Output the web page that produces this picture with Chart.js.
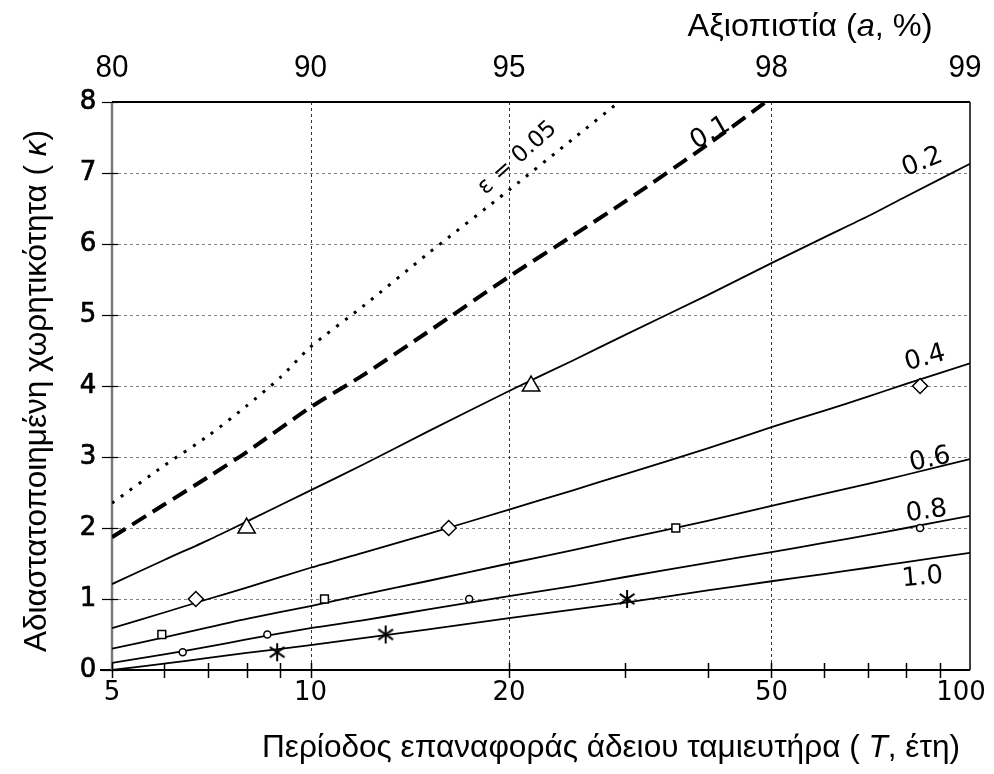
<!DOCTYPE html>
<html>
<head>
<meta charset="utf-8">
<script src="https://cdn.jsdelivr.net/npm/chart.js@4.4.1/dist/chart.umd.min.js"></script>
<style>
html,body{margin:0;padding:0;background:#fff;}
#wrap{width:994px;height:774px;position:relative;}
canvas{display:block;}
</style>
</head>
<body>
<div id="wrap"><canvas id="c" width="994" height="774"></canvas></div>
<script>
// ---------- DATA ----------
// Return period T (years) grid for the solid curves
const tGrid = [5, 6, 7, 8, 10, 12, 15, 20, 25, 30, 40, 50, 60, 70, 80, 100];
const kEps02 = [1.21, 1.55, 1.83, 2.09, 2.53, 2.89, 3.35, 3.93, 4.36, 4.72, 5.28, 5.73, 6.09, 6.39, 6.67, 7.13];
const kEps04 = [0.59, 0.81, 1.00, 1.16, 1.44, 1.65, 1.91, 2.26, 2.53, 2.76, 3.12, 3.42, 3.65, 3.85, 4.03, 4.32];
const kEps06 = [0.30, 0.46, 0.60, 0.72, 0.90, 1.06, 1.25, 1.50, 1.69, 1.85, 2.10, 2.31, 2.48, 2.62, 2.75, 2.97];
const kEps08 = [0.10, 0.22, 0.33, 0.43, 0.59, 0.70, 0.85, 1.04, 1.18, 1.31, 1.51, 1.66, 1.79, 1.90, 2.00, 2.17];
const kEps10 = [0.00, 0.09, 0.17, 0.24, 0.35, 0.45, 0.57, 0.73, 0.85, 0.95, 1.12, 1.25, 1.35, 1.44, 1.52, 1.65];

// ε = 0.05 (dotted) and ε = 0.1 (dashed) run out of the top of the plot
const tEps005 = [5, 6, 7, 8, 9, 10, 12, 15, 20, 25, 30];
const kEps005 = [2.35, 2.88, 3.30, 3.72, 4.12, 4.55, 5.12, 5.85, 6.76, 7.48, 8.07];
const tEps01 = [5, 6, 7, 8, 10, 12, 15, 20, 25, 30, 40, 50];
const kEps01 = [1.87, 2.33, 2.72, 3.07, 3.70, 4.15, 4.75, 5.54, 6.12, 6.60, 7.40, 8.06];

// Marker points
const triT = [8.0, 21.6];            const triK = [2, 4];
const diaT = [6.7, 16.2, 84];        const diaK = [1, 2, 4];
const sqT  = [5.95, 10.5, 35.8];     const sqK  = [0.5, 1, 2];
const cirT = [6.4, 8.6, 17.4, 84];   const cirK = [0.25, 0.5, 1, 2];
const astT = [8.9, 13.0, 30.2];      const astK = [0.25, 0.5, 1];

// Curve labels (text, T, k, angle in degrees)
const curveLabelText  = ['ε = 0.05', '0.1', '0.2', '0.4', '0.6', '0.8', '1.0'];
const curveLabelT     = [20.6, 40.4, 84.7, 85.5, 87.0, 85.9, 84.7];
const curveLabelK     = [7.21, 7.56, 7.15, 4.39, 2.96, 2.23, 1.30];
const curveLabelAngle = [-42, -30, -22, -15, -12, -8, -5];

// Axes ticks / labels
const yTickValues = [0, 1, 2, 3, 4, 5, 6, 7, 8];
const yGridValues = [1, 2, 3, 4, 5, 6, 7];
const xGridValues = [10, 20, 50];
const xMinorTicks = [5, 6, 7, 8, 9, 10, 20, 30, 40, 50, 60, 70, 80, 90];
const xTickValues = [5, 10, 20, 50, 100];
const xTickLabels = ['5', '10', '20', '50', '100'];
const topTickValues = [5, 10, 20, 50, 100];
const topTickLabels = ['80', '90', '95', '98', '99'];

const yTitleParts = [{t:'Αδιαστατοποιημένη χωρητικότητα ( ', i:false}, {t:'κ', i:true}, {t:')', i:false}];
const xTitleParts = [{t:'Περίοδος επαναφοράς άδειου ταμιευτήρα ( ', i:false}, {t:'T', i:true}, {t:', έτη)', i:false}];
const topTitleParts = [{t:'Αξιοπιστία (', i:false}, {t:'a', i:true}, {t:', %)', i:false}];

// ---------- HELPERS ----------
const toXY = (ts, ks) => ts.map((t, i) => ({x: t, y: ks[i]}));

function makeAsterisk(size) {
  const c = document.createElement('canvas');
  c.width = size; c.height = size;
  const g = c.getContext('2d');
  g.strokeStyle = '#000'; g.lineWidth = 2;
  const r = size / 2 - 1, cx = size / 2, cy = size / 2;
  [90, 35, 145].forEach(a => {
    const rad = a * Math.PI / 180;
    g.beginPath();
    g.moveTo(cx - r * Math.cos(rad), cy - r * Math.sin(rad));
    g.lineTo(cx + r * Math.cos(rad), cy + r * Math.sin(rad));
    g.stroke();
  });
  return c;
}
const asteriskImg = makeAsterisk(20);

const NARROW = "'Liberation Sans Narrow','Liberation Sans',Arial,sans-serif";
const DEJAVU = "'DejaVu Sans',Verdana,sans-serif";

function drawRich(ctx, parts, cx, cy, targetW, size, family, rot) {
  ctx.save();
  ctx.translate(cx, cy);
  if (rot) ctx.rotate(rot);
  let w = 0;
  const ws = parts.map(p => {
    ctx.font = (p.i ? 'italic ' : '') + size + 'px ' + family;
    const m = ctx.measureText(p.t).width; w += m; return m;
  });
  const s = targetW ? targetW / w : 1;
  ctx.scale(s, 1);
  ctx.textBaseline = 'middle'; ctx.textAlign = 'left'; ctx.fillStyle = '#000';
  let x = -w / 2;
  parts.forEach((p, i) => {
    ctx.font = (p.i ? 'italic ' : '') + size + 'px ' + family;
    ctx.fillText(p.t, x, 0);
    x += ws[i];
  });
  ctx.restore();
}

function fitText(ctx, text, cx, cy, targetW, font) {
  ctx.save();
  ctx.font = font;
  const w = ctx.measureText(text).width;
  ctx.translate(cx, cy);
  ctx.scale(targetW / w, 1);
  ctx.textAlign = 'center'; ctx.textBaseline = 'middle';
  ctx.fillText(text, 0, 0);
  ctx.restore();
}

function seg(ctx, x1, y1, x2, y2) {
  ctx.beginPath(); ctx.moveTo(x1, y1); ctx.lineTo(x2, y2); ctx.stroke();
}

// ---------- DECORATION PLUGIN ----------
const decor = {
  id: 'decor',
  beforeDatasetsDraw(chart) {
    const {ctx, chartArea: a, scales: {x, y}} = chart;
    ctx.save();
    ctx.lineWidth = 1;
    // horizontal grid
    ctx.setLineDash([3, 3]);
    ctx.strokeStyle = '#808080';
    yGridValues.forEach(v => {
      const py = Math.round(y.getPixelForValue(v)) + 0.5;
      seg(ctx, a.left, py, a.right, py);
    });
    // vertical grid
    ctx.strokeStyle = '#333';
    ctx.setLineDash([3, 3]);
    xGridValues.forEach(v => {
      const px = Math.round(x.getPixelForValue(v)) + 0.5;
      seg(ctx, px, a.top, px, a.bottom);
    });
    ctx.setLineDash([]);
    // frame
    ctx.strokeStyle = '#000';
    ctx.lineWidth = 2;
    seg(ctx, a.left, a.top, a.right, a.top);
    seg(ctx, a.left - 12, a.bottom, a.right, a.bottom);
    ctx.lineWidth = 1.5;
    seg(ctx, a.right, a.top, a.right, a.bottom);
    ctx.strokeStyle = '#7a7a7a';
    ctx.lineWidth = 2.5;
    seg(ctx, a.left, a.top, a.left, a.bottom);
    // y ticks
    ctx.strokeStyle = '#000';
    ctx.lineWidth = 1.2;
    yTickValues.forEach(v => {
      const py = Math.round(y.getPixelForValue(v)) + 0.5;
      seg(ctx, a.left - 10, py, a.left + 6, py);
    });
    // x minor ticks (crossing the axis)
    ctx.lineWidth = 1.5;
    xMinorTicks.forEach(v => {
      const px = Math.round(x.getPixelForValue(v)) + 0.5;
      seg(ctx, px, a.bottom - 7, px, a.bottom + 8);
    });
    ctx.restore();
  },
  afterDatasetsDraw(chart) {
    const {ctx, chartArea: a, scales: {x, y}} = chart;
    ctx.save();
    ctx.fillStyle = '#000';
    ctx.strokeStyle = '#000';
    // y tick labels (slightly heavy)
    ctx.font = '26px ' + DEJAVU;
    ctx.textAlign = 'center'; ctx.textBaseline = 'middle';
    ctx.lineWidth = 0.7;
    yTickValues.forEach(v => {
      const py = y.getPixelForValue(v);
      ctx.fillText(String(v), a.left - 24, py);
      ctx.strokeText(String(v), a.left - 24, py);
    });
    // bottom tick labels
    ctx.font = '26px ' + DEJAVU;
    xTickValues.forEach((v, i) => {
      let px = x.getPixelForValue(v);
      if (i === xTickValues.length - 1) px -= 9;
      ctx.fillText(xTickLabels[i], px, a.bottom + 23);
    });
    // top tick labels (narrow, tall)
    topTickValues.forEach((v, i) => {
      let px = x.getPixelForValue(v);
      if (i === topTickValues.length - 1) px -= 5;
      fitText(ctx, topTickLabels[i], px, a.top - 34, 33, '31px ' + NARROW);
    });
    // curve labels
    curveLabelText.forEach((t, i) => {
      const px = x.getPixelForValue(curveLabelT[i]);
      const py = y.getPixelForValue(curveLabelK[i]);
      ctx.save();
      ctx.translate(px, py);
      ctx.rotate(curveLabelAngle[i] * Math.PI / 180);
      ctx.font = (i === 0 ? '23px ' : '26px ') + DEJAVU;
      ctx.textAlign = 'center'; ctx.textBaseline = 'middle';
      ctx.fillText(t, 0, 0);
      ctx.restore();
    });
    // axis titles
    drawRich(ctx, topTitleParts, 810, 27, 245, 32, NARROW, 0);
    drawRich(ctx, xTitleParts, 611, 748, 698, 32, NARROW, 0);
    drawRich(ctx, yTitleParts, 37, 391, 522, 32, NARROW, -Math.PI / 2);
    ctx.restore();
  }
};

// ---------- CHART ----------
const solid = (data) => ({
  data, showLine: true, borderColor: '#000', borderWidth: 1.8,
  pointRadius: 0, tension: 0.25, fill: false
});
const markers = (data, style, r) => ({
  data, showLine: false, pointStyle: style, pointRadius: r, pointHoverRadius: r,
  pointBorderColor: '#000', pointBackgroundColor: '#fff', pointBorderWidth: 1.5
});

new Chart(document.getElementById('c'), {
  type: 'scatter',
  data: {
    datasets: [
      markers(toXY(triT, triK), 'triangle', 10),
      markers(toXY(diaT, diaK), 'rectRot', 7.5),
      markers(toXY(sqT, sqK), 'rect', 5.5),
      markers(toXY(cirT, cirK), 'circle', 3.5),
      markers(toXY(astT, astK), asteriskImg, 10),
      Object.assign(solid(toXY(tEps005, kEps005)), {borderWidth: 3, borderDash: [3, 8]}),
      Object.assign(solid(toXY(tEps01, kEps01)), {borderWidth: 4, borderDash: [16, 8]}),
      solid(toXY(tGrid, kEps02)),
      solid(toXY(tGrid, kEps04)),
      solid(toXY(tGrid, kEps06)),
      solid(toXY(tGrid, kEps08)),
      solid(toXY(tGrid, kEps10))
    ]
  },
  options: {
    responsive: false,
    devicePixelRatio: 1,
    animation: false,
    layout: {padding: {left: 112, right: 24, top: 102, bottom: 104}},
    plugins: {legend: {display: false}, tooltip: {enabled: false}},
    scales: {
      x: {type: 'logarithmic', min: 5, max: 100, display: false},
      y: {type: 'linear', min: 0, max: 8, display: false}
    }
  },
  plugins: [decor]
});
</script>
</body>
</html>
